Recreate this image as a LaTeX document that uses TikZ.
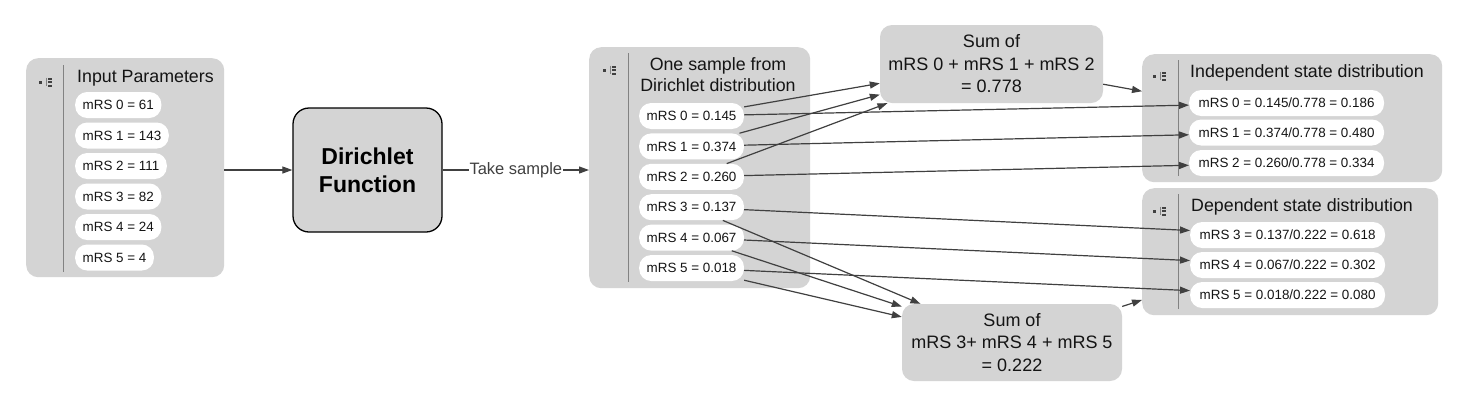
\documentclass[tikz,border=0pt]{standalone}
\usepackage{fontspec}
\setmainfont{Liberation Sans}
\usetikzlibrary{arrows.meta}
\definecolor{boxgray}{RGB}{212,212,212}
\definecolor{linegray}{RGB}{64,64,64}
\definecolor{sepgray}{RGB}{130,130,130}
\definecolor{txt}{RGB}{20,20,20}
\begin{document}
\begin{tikzpicture}[x=1pt,y=-1pt,
  container/.style={fill=boxgray, draw=none, rounded corners=12pt, anchor=north west, inner sep=0pt},
  pill/.style={fill=white, rounded corners=12pt, anchor=west, minimum height=26pt, inner xsep=7.5pt, inner ysep=0pt, text=txt, font=\fontsize{13.4}{15}\selectfont},
  widepill/.style={pill, inner xsep=9.5pt},
  title/.style={inner sep=0pt, text=txt, font=\fontsize{17.8}{21}\selectfont},
  sumbox/.style={fill=boxgray, rounded corners=12pt, inner sep=0pt, align=center, text=txt, font=\fontsize{18}{22.5}\selectfont},
  funcbox/.style={fill=boxgray, draw=black, line width=1.3pt, rounded corners=16pt, inner sep=0pt, align=center, font=\fontsize{23}{28}\selectfont\bfseries},
  sepline/.style={draw=sepgray, line width=1pt},
  conn/.style={draw=linegray, line width=1.2pt, -{Triangle[length=10pt,width=7pt]}},
  ticon/.pic={
    \fill[linegray] (0,0) rectangle (3,3);
    \draw[sepgray, line width=0.6pt] (7.5,-3.5) -- (7.5,5);
    \fill[linegray] (9,-3.5) rectangle (13,-1.5);
    \fill[linegray] (9,0) rectangle (13,2);
    \fill[linegray] (9,3.5) rectangle (13,5.5);
  }]
\fill[white] (0,0) rectangle (1467,408);
\path[use as bounding box] (0,0) rectangle (1467,408);

% Input parameters
\node[container, minimum width=198pt, minimum height=219pt] (inp) at (26,58) {};
\draw[sepline] (63,65) -- (63,272);
\pic at (38.5,81) {ticon};
\node[title, anchor=base west] (inpt) at (77,82) {Input Parameters};
\node[pill] (i0) at (75,105) {mRS 0 = 61};
\node[pill] (i1) at (75,135.5) {mRS 1 = 143};
\node[pill] (i2) at (75,166) {mRS 2 = 111};
\node[pill] (i3) at (75,196.5) {mRS 3 = 82};
\node[pill] (i4) at (75,227) {mRS 4 = 24};
\node[pill] (i5) at (75,257.5) {mRS 5 = 4};

% Dirichlet function
\node[funcbox, minimum width=149pt, minimum height=124pt] (dir) at (367.5,170) {Dirichlet\\Function};

% Sample
\node[container, minimum width=221pt, minimum height=241pt] (smp) at (589,47) {};
\draw[sepline] (628,53) -- (628,282);
\pic at (603,69) {ticon};
\node[title, anchor=north, align=center] (smpt) at (718,57) {One sample from\\Dirichlet distribution};
\node[pill] (s0) at (639,116) {mRS 0 = 0.145};
\node[pill] (s1) at (639,146.4) {mRS 1 = 0.374};
\node[pill] (s2) at (639,176.8) {mRS 2 = 0.260};
\node[pill] (s3) at (639,207.2) {mRS 3 = 0.137};
\node[pill] (s4) at (639,237.6) {mRS 4 = 0.067};
\node[pill] (s5) at (639,268) {mRS 5 = 0.018};

% Sum boxes
\node[sumbox, minimum width=223pt, minimum height=78pt] (sum1) at (991.5,64) {Sum of\\mRS 0 + mRS 1 + mRS 2\\= 0.778};
\node[sumbox, minimum width=220pt, minimum height=77pt] (sum2) at (1012,342.5) {Sum of\\mRS 3+ mRS 4 + mRS 5\\= 0.222};

% Independent
\node[container, minimum width=300pt, minimum height=128pt] (ind) at (1142,54) {};
\draw[sepline] (1178,60) -- (1178,176);
\pic at (1153,75) {ticon};
\node[title, anchor=base west] (indt) at (1190,77) {Independent state distribution};
\node[widepill] (a0) at (1189,103) {mRS 0 = 0.145/0.778 = 0.186};
\node[widepill] (a1) at (1189,132.5) {mRS 1 = 0.374/0.778 = 0.480};
\node[widepill] (a2) at (1189,163) {mRS 2 = 0.260/0.778 = 0.334};

% Dependent
\node[container, minimum width=296pt, minimum height=127pt] (dep) at (1142,188) {};
\draw[sepline] (1178,194) -- (1178,309);
\pic at (1153,210) {ticon};
\node[title, anchor=base west] (dept) at (1191,211) {Dependent state distribution};
\node[widepill] (b3) at (1190,235) {mRS 3 = 0.137/0.222 = 0.618};
\node[widepill] (b4) at (1190,265) {mRS 4 = 0.067/0.222 = 0.302};
\node[widepill] (b5) at (1190,295) {mRS 5 = 0.018/0.222 = 0.080};

% Connectors
\draw[conn] (inp.east |- dir.west) -- (dir.west);
\draw[conn] (dir.east) -- node[fill=white, inner sep=1pt, text=linegray, font=\fontsize{16.5}{18}\selectfont] (tk) {Take sample} (dir.east -| smp.west);
\draw[conn] (s0) -- (sum1);
\draw[conn] (s1) -- (sum1);
\draw[conn] (s2) -- (sum1);
\draw[conn] (s0) -- (a0);
\draw[conn] (s1) -- (a1);
\draw[conn] (s2) -- (a2);
\draw[conn] (sum1) -- (ind);
\draw[conn] (s3) -- (b3);
\draw[conn] (s4) -- (b4);
\draw[conn] (s5) -- (b5);
\draw[conn] (s3) -- (sum2);
\draw[conn] (s4) -- (sum2);
\draw[conn] (s5) -- (sum2);
\draw[conn] (sum2) -- (dep);
\end{tikzpicture}
\end{document}
